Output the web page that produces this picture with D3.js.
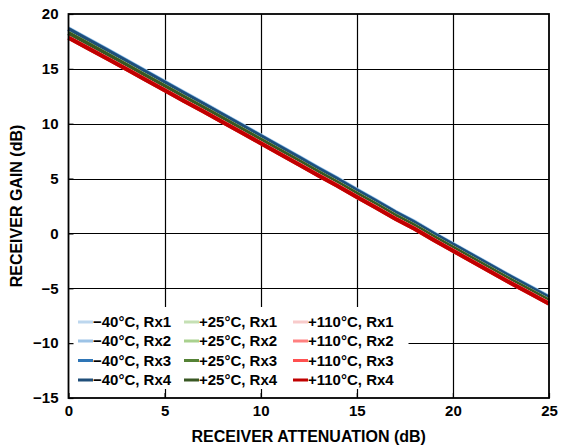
<!DOCTYPE html>
<html><head><meta charset="utf-8">
<script src="https://cdn.jsdelivr.net/npm/d3@7/dist/d3.min.js"></script>
<style>body{margin:0;background:#fff}svg{display:block;font-family:"Liberation Sans",Arial,sans-serif;font-weight:bold}</style>
</head><body><svg id="c" width="564" height="446"></svg>
<script>
const attenuation = d3.range(0, 26); // 0..25 dB in 1 dB steps
const xTicks = [0, 5, 10, 15, 20, 25];
const yTicks = [-15, -10, -5, 0, 5, 10, 15, 20];
const seriesNames = ["−40°C, Rx1","−40°C, Rx2","−40°C, Rx3","−40°C, Rx4","+25°C, Rx1","+25°C, Rx2","+25°C, Rx3","+25°C, Rx4","+110°C, Rx1","+110°C, Rx2","+110°C, Rx3","+110°C, Rx4"];
const seriesColors = ["#bdd7ee","#9dc3e6","#2e75b6","#1f4e79","#c5e0b4","#a9d18e","#548235","#385723","#f8cbcb","#ff8080","#ff5050","#c00000"];
const m40Rx1 = [18.70,17.74,16.78,15.80,14.82,13.84,12.86,11.90,10.92,9.94,8.95,7.96,6.98,5.98,5.02,4.00,3.02,2.00,1.08,0.04,-0.94,-1.92,-2.90,-3.88,-4.82,-5.76];
const m40Rx2 = [18.66,17.70,16.74,15.76,14.78,13.80,12.82,11.86,10.88,9.90,8.91,7.92,6.94,5.94,4.98,3.96,2.98,1.96,1.04,0.00,-0.98,-1.96,-2.94,-3.92,-4.86,-5.80];
const m40Rx3 = [18.63,17.67,16.71,15.73,14.75,13.77,12.79,11.83,10.85,9.87,8.88,7.89,6.91,5.91,4.95,3.93,2.95,1.93,1.01,-0.03,-1.01,-1.99,-2.97,-3.95,-4.89,-5.83];
const m40Rx4 = [18.60,17.64,16.68,15.70,14.72,13.74,12.76,11.80,10.82,9.84,8.85,7.86,6.88,5.88,4.92,3.90,2.92,1.90,0.98,-0.06,-1.04,-2.02,-3.00,-3.98,-4.92,-5.86];
const p25Rx1 = [18.27,17.32,16.36,15.39,14.41,13.44,12.46,11.50,10.53,9.55,8.57,7.58,6.60,5.61,4.65,3.64,2.66,1.65,0.73,-0.30,-1.28,-2.26,-3.24,-4.22,-5.16,-6.10];
const p25Rx2 = [18.26,17.31,16.35,15.38,14.40,13.43,12.45,11.49,10.52,9.54,8.56,7.57,6.59,5.60,4.64,3.63,2.65,1.64,0.72,-0.31,-1.29,-2.27,-3.25,-4.23,-5.17,-6.11];
const p25Rx3 = [18.25,17.30,16.34,15.37,14.39,13.42,12.44,11.48,10.51,9.53,8.55,7.56,6.58,5.59,4.63,3.62,2.64,1.63,0.71,-0.32,-1.30,-2.28,-3.26,-4.24,-5.18,-6.12];
const p25Rx4 = [18.24,17.29,16.33,15.36,14.38,13.41,12.43,11.47,10.50,9.52,8.54,7.55,6.57,5.58,4.62,3.61,2.63,1.62,0.70,-0.33,-1.31,-2.29,-3.27,-4.25,-5.19,-6.13];
const p110Rx1 = [17.86,16.92,15.97,15.01,14.04,13.08,12.11,11.16,10.19,9.22,8.25,7.27,6.30,5.31,4.36,3.35,2.38,1.37,0.45,-0.57,-1.55,-2.53,-3.51,-4.49,-5.43,-6.37];
const p110Rx2 = [17.85,16.91,15.96,15.00,14.03,13.07,12.10,11.15,10.18,9.21,8.24,7.26,6.29,5.30,4.35,3.34,2.37,1.36,0.44,-0.58,-1.56,-2.54,-3.52,-4.50,-5.44,-6.38];
const p110Rx3 = [17.84,16.90,15.95,14.99,14.02,13.06,12.09,11.14,10.17,9.20,8.23,7.25,6.28,5.29,4.34,3.33,2.36,1.35,0.43,-0.59,-1.57,-2.55,-3.53,-4.51,-5.45,-6.39];
const p110Rx4 = [17.83,16.89,15.94,14.98,14.01,13.05,12.08,11.13,10.16,9.19,8.22,7.24,6.27,5.28,4.33,3.32,2.35,1.34,0.42,-0.60,-1.58,-2.56,-3.54,-4.52,-5.46,-6.40];
const seriesValues = [m40Rx1,m40Rx2,m40Rx3,m40Rx4,p25Rx1,p25Rx2,p25Rx3,p25Rx4,p110Rx1,p110Rx2,p110Rx3,p110Rx4];

const L = 68.5, R = 549, T = 14, B = 398;
const svg = d3.select("#c");
const x = d3.scaleLinear().domain([0, 25]).range([L, R]);
const y = d3.scaleLinear().domain([-15, 20]).range([B, T]);

// grid
const g = svg.append("g");
g.selectAll(".gx").data(xTicks.slice(1, -1)).join("line")
  .attr("x1", d => Math.round(x(d)) + 0.5).attr("x2", d => Math.round(x(d)) + 0.5)
  .attr("y1", T).attr("y2", B).attr("stroke", "#000").attr("stroke-width", 1.2);
g.selectAll(".gy").data(yTicks.slice(1, -1)).join("line")
  .attr("y1", d => Math.round(y(d)) + 0.5).attr("y2", d => Math.round(y(d)) + 0.5)
  .attr("x1", L).attr("x2", R).attr("stroke", "#000").attr("stroke-width", 1.2);

// series
const line = d3.line().x((d, i) => x(attenuation[i])).y(d => y(d));
svg.append("g").selectAll("path").data(seriesValues).join("path")
  .attr("d", d => line(d)).attr("fill", "none")
  .attr("stroke", (d, i) => seriesColors[i]).attr("stroke-width", 4)
  .attr("stroke-linejoin", "round");

// legend
const lg = svg.append("g");
lg.append("rect").attr("x", L + 0.5).attr("y", 307).attr("width", 408 - L).attr("height", 82).attr("fill", "#fff");
const colX = [78, 184, 293];
const rowY = [322, 341, 360.5, 380];
seriesNames.forEach((n, i) => {
  const c = Math.floor(i / 4), r = i % 4;
  lg.append("line").attr("x1", colX[c]).attr("x2", colX[c] + 15)
    .attr("y1", rowY[r]).attr("y2", rowY[r]).attr("stroke", seriesColors[i]).attr("stroke-width", 3);
  lg.append("text").attr("x", colX[c] + 15).attr("y", rowY[r] + 5)
    .attr("font-size", 15).attr("fill", "#000").text(n);
});

// axes
const ax = svg.append("g").attr("transform", `translate(0,${B})`)
  .call(d3.axisBottom(x).tickValues(xTicks).tickSize(-5).tickPadding(7).tickFormat(d3.format("d")));
const ay = svg.append("g").attr("transform", `translate(${L},0)`)
  .call(d3.axisLeft(y).tickValues(yTicks).tickSize(-5).tickPadding(10).tickFormat(d => d < 0 ? "−" + Math.abs(d) : d));
[ax, ay].forEach(a => {
  a.select(".domain").remove();
  a.selectAll(".tick line").attr("stroke", "#000").attr("stroke-width", 1.2);
  a.selectAll("text").attr("font-size", 15).attr("font-family", "Liberation Sans, Arial, sans-serif")
    .attr("font-weight", "bold").attr("fill", "#000");
});
svg.append("rect").attr("x", L).attr("y", T).attr("width", R - L).attr("height", B - T)
  .attr("fill", "none").attr("stroke", "#000").attr("stroke-width", 1.8);

svg.append("text").attr("x", (L + R) / 2).attr("y", 442).attr("text-anchor", "middle")
  .attr("font-size", 16).text("RECEIVER ATTENUATION (dB)");
svg.append("text").attr("transform", `translate(22,${(T + B) / 2}) rotate(-90)`).attr("text-anchor", "middle")
  .attr("font-size", 16).text("RECEIVER GAIN (dB)");
</script></body></html>
